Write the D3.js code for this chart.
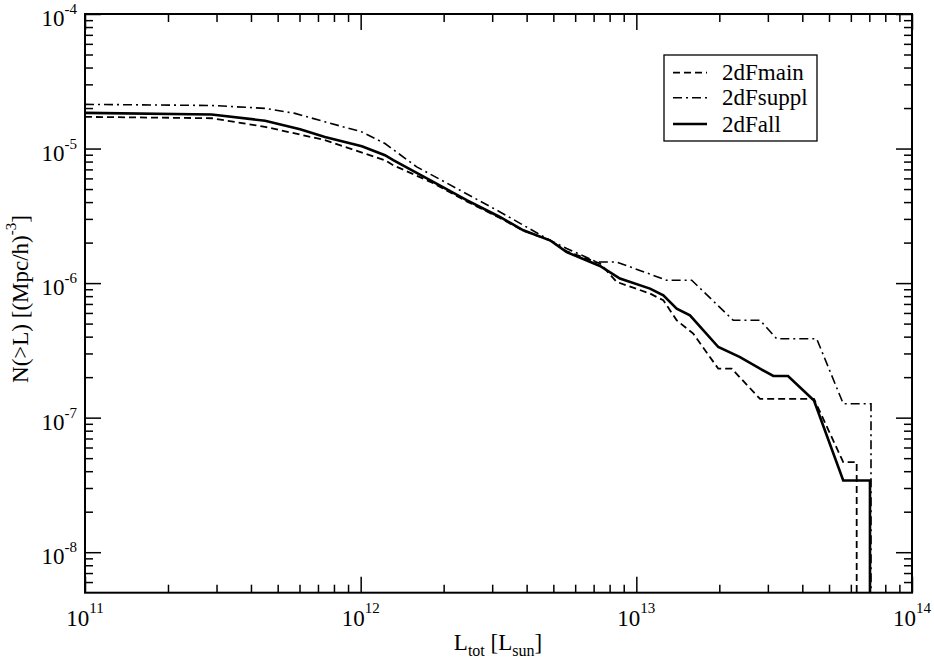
<!DOCTYPE html>
<html>
<head>
<meta charset="utf-8">
<script src="https://cdn.jsdelivr.net/npm/d3@7"></script>
<style>
  body { margin: 0; background: #fff; }
  svg { display: block; }
  text { font-family: "Liberation Serif", "DejaVu Serif", serif; fill: #000; }
</style>
</head>
<body>
<svg id="chart" width="934" height="661"></svg>
<script>
// ---- data ----
// 2dFmain (dashed)
const mainL = [1.0e11, 2.88e11, 4.5e11, 7.42e11, 1.225e12, 1.313e12, 1.834e12, 2.424e12, 3.2e12, 3.89e12, 4.86e12, 5.59e12, 7.38e12, 8.49e12, 1.121e13, 1.253e13, 1.401e13, 1.609e13, 1.983e13, 2.218e13, 2.81e13, 4.41e13, 5.63e13, 6.30e13, 6.30e13];
const mainN = [1.72e-5, 1.68e-5, 1.45e-5, 1.155e-5, 8.19e-6, 7.52e-6, 5.53e-6, 4.05e-6, 3.05e-6, 2.45e-6, 2.08e-6, 1.72e-6, 1.40e-6, 1.02e-6, 8.36e-7, 7.45e-7, 5.29e-7, 4.21e-7, 2.31e-7, 2.31e-7, 1.38e-7, 1.38e-7, 4.67e-8, 4.67e-8, 1e-9];
// 2dFsuppl (dash-dot)
const supplL = [1.0e11, 2.88e11, 4.5e11, 5.78e11, 7.42e11, 1.01e12, 1.225e12, 1.597e12, 2.293e12, 3.203e12, 4.86e12, 5.59e12, 7.18e12, 8.49e12, 1.288e13, 1.588e13, 2.247e13, 2.81e13, 3.23e13, 4.51e13, 5.63e13, 7.10e13, 7.10e13];
const supplN = [2.13e-5, 2.09e-5, 1.99e-5, 1.825e-5, 1.58e-5, 1.33e-5, 1.09e-5, 7.31e-6, 4.90e-6, 3.38e-6, 2.08e-6, 1.81e-6, 1.435e-6, 1.435e-6, 1.05e-6, 1.05e-6, 5.29e-7, 5.29e-7, 3.86e-7, 3.86e-7, 1.27e-7, 1.27e-7, 1e-9];
// 2dFall (solid)
const allL = [1.0e11, 2.88e11, 4.5e11, 6.03e11, 7.42e11, 1.01e12, 1.225e12, 1.313e12, 1.834e12, 2.424e12, 3.2e12, 3.89e12, 4.86e12, 5.59e12, 7.38e12, 8.72e12, 1.121e13, 1.253e13, 1.401e13, 1.565e13, 1.983e13, 2.377e13, 2.81e13, 3.14e13, 3.55e13, 4.41e13, 5.63e13, 7.04e13, 7.04e13];
const allN = [1.84e-5, 1.79e-5, 1.61e-5, 1.39e-5, 1.22e-5, 1.04e-5, 8.93e-6, 8.19e-6, 5.65e-6, 4.13e-6, 3.10e-6, 2.47e-6, 2.08e-6, 1.70e-6, 1.34e-6, 1.08e-6, 9.10e-7, 8.11e-7, 6.46e-7, 5.76e-7, 3.35e-7, 2.82e-7, 2.31e-7, 2.04e-7, 2.04e-7, 1.34e-7, 3.41e-8, 3.41e-8, 1e-9];

const seriesNames = ["2dFmain", "2dFsuppl", "2dFall"];
const xMajor = [1e11, 1e12, 1e13, 1e14];
const xMajorExp = ["11", "12", "13", "14"];
const yMajor = [1e-8, 1e-7, 1e-6, 1e-5, 1e-4];
const yMajorExp = ["-8", "-7", "-6", "-5", "-4"];

// ---- layout ----
const L = 85, R = 912, T = 14, B = 592.7;
const FS = 23, SFS = 15;
const svg = d3.select("#chart");

const x = d3.scaleLog().domain([1e11, 1e14]).range([L, R]);
const y = d3.scaleLog().domain([5e-9, 1e-4]).range([B, T]).clamp(true);

// minor tick values
const xMinor = [];
[1e11, 1e12, 1e13].forEach(d => { for (let k = 2; k <= 9; k++) xMinor.push(d * k); });
const yMinor = [];
[1e-9, 1e-8, 1e-7, 1e-6, 1e-5].forEach(d => { for (let k = 2; k <= 9; k++) { const v = d * k; if (v > 5.01e-9 && v < 1e-4) yMinor.push(v); } });

const majorLen = 16, minorLen = 8;

function drawAxis(axisFn, scale, vals, len, transform) {
  const g = svg.append("g").attr("transform", transform)
    .call(axisFn(scale).tickValues(vals).tickSizeInner(-len).tickSizeOuter(0).tickFormat(""));
  g.select(".domain").remove();
  g.selectAll(".tick line").attr("stroke", "#000").attr("stroke-width", 1.5);
  return g;
}
drawAxis(d3.axisBottom, x, xMajor, majorLen, `translate(0,${B})`);
drawAxis(d3.axisBottom, x, xMinor, minorLen, `translate(0,${B})`);
drawAxis(d3.axisTop, x, xMajor, majorLen, `translate(0,${T})`);
drawAxis(d3.axisTop, x, xMinor, minorLen, `translate(0,${T})`);
drawAxis(d3.axisLeft, y, yMajor, majorLen, `translate(${L},0)`);
drawAxis(d3.axisLeft, y, yMinor, minorLen, `translate(${L},0)`);
drawAxis(d3.axisRight, y, yMajor, majorLen, `translate(${R},0)`);
drawAxis(d3.axisRight, y, yMinor, minorLen, `translate(${R},0)`);

// frame
svg.append("rect").attr("x", L).attr("y", T).attr("width", R - L).attr("height", B - T)
  .attr("fill", "none").attr("stroke", "#000").attr("stroke-width", 2);

// tick labels
xMajor.forEach((v, i) => {
  const t = svg.append("text").attr("x", x(v)).attr("y", 626).attr("text-anchor", "middle")
    .style("font-size", FS + "px");
  t.append("tspan").text("10");
  t.append("tspan").attr("dy", -13).style("font-size", SFS + "px").text(xMajorExp[i]);
});
yMajor.forEach((v, i) => {
  const t = svg.append("text").attr("x", 77).attr("y", y(v) + 12).attr("text-anchor", "end")
    .style("font-size", FS + "px");
  t.append("tspan").text("10");
  t.append("tspan").attr("dy", -12).style("font-size", SFS + "px").text(yMajorExp[i]);
});

// axis titles
const xt = svg.append("text").attr("x", 498).attr("y", 650).attr("text-anchor", "middle").style("font-size", FS + "px");
xt.append("tspan").text("L");
xt.append("tspan").attr("dy", 6).style("font-size", "16px").text("tot");
xt.append("tspan").attr("dy", -6).text(" [L");
xt.append("tspan").attr("dy", 6).style("font-size", "16px").text("sun");
xt.append("tspan").attr("dy", -6).text("]");

const yt = svg.append("text").attr("transform", "translate(28,299) rotate(-90)")
  .attr("text-anchor", "middle").style("font-size", FS + "px");
yt.append("tspan").text("N(>L) [(Mpc/h)");
yt.append("tspan").attr("dy", -12).style("font-size", SFS + "px").text("-3");
yt.append("tspan").attr("dy", 12).text("]");

// series
const styles = [
  { dash: "7,4", width: 1.8 },
  { dash: "9,4,2,4", width: 1.6 },
  { dash: null, width: 2.6 }
];
const data = [
  d3.zip(mainL, mainN),
  d3.zip(supplL, supplN),
  d3.zip(allL, allN)
];
const line = d3.line().x(d => x(d[0])).y(d => y(d[1]));
data.forEach((d, i) => {
  svg.append("path").datum(d).attr("d", line)
    .attr("fill", "none").attr("stroke", "#000")
    .attr("stroke-width", styles[i].width)
    .attr("stroke-dasharray", styles[i].dash)
    .attr("stroke-linejoin", "miter");
});

// legend
const lg = svg.append("g");
lg.append("rect").attr("x", 664).attr("y", 55).attr("width", 153).attr("height", 86)
  .attr("fill", "#fff").attr("stroke", "#000").attr("stroke-width", 1.3);
const lineY = [72.7, 97.7, 124];
const textY = [79.5, 104.5, 132];
seriesNames.forEach((name, i) => {
  lg.append("line").attr("x1", 673).attr("x2", 707).attr("y1", lineY[i]).attr("y2", lineY[i])
    .attr("stroke", "#000").attr("stroke-width", styles[i].width)
    .attr("stroke-dasharray", styles[i].dash);
  lg.append("text").attr("x", 722).attr("y", textY[i]).style("font-size", FS + "px").text(name);
});
</script>
</body>
</html>
